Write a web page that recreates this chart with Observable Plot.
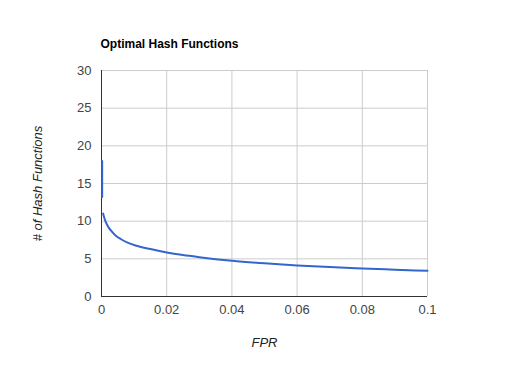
<!DOCTYPE html>
<html>
<head>
<meta charset="utf-8">
<script src="https://cdn.jsdelivr.net/npm/d3@7"></script>
<script src="https://cdn.jsdelivr.net/npm/@observablehq/plot@0.6"></script>
<style>
  html, body { margin: 0; padding: 0; background: #fff; }
  #chart svg { display: block; }
</style>
</head>
<body>
<div id="chart"></div>
<script>
// Spike near zero (separate segment)
const spikeFpr = [0.0002, 0.0002];
const spikeK = [18, 13.2];
// Main curve
const fpr = [0.0005, 0.0012, 0.002, 0.003, 0.0043, 0.006, 0.008, 0.0104, 0.015, 0.02, 0.025, 0.03, 0.04, 0.05, 0.06, 0.07, 0.08, 0.09, 0.1];
const hashK = [11.0, 10.0, 9.3, 8.7, 8.1, 7.6, 7.15, 6.77, 6.3, 5.85, 5.5, 5.22, 4.75, 4.4, 4.12, 3.9, 3.72, 3.56, 3.41];
const xTicks = [0, 0.02, 0.04, 0.06, 0.08, 0.1];
const xTickLabels = ["0", "0.02", "0.04", "0.06", "0.08", "0.1"];
const yTicks = [0, 5, 10, 15, 20, 25, 30];
const yTickLabels = ["0", "5", "10", "15", "20", "25", "30"];

const spike = spikeFpr.map((x, i) => ({x, y: spikeK[i]}));
const curve = fpr.map((x, i) => ({x, y: hashK[i]}));

const chart = Plot.plot({
  width: 528,
  height: 365,
  marginLeft: 101,
  marginRight: 101,
  marginTop: 70,
  marginBottom: 69,
  style: {fontFamily: "'Liberation Sans', Arial, sans-serif", fontSize: "13px", background: "#fff"},
  x: {domain: [0, 0.1]},
  y: {domain: [0, 30]},
  marks: [
    Plot.gridX(xTicks, {stroke: "#cccccc", strokeOpacity: 1}),
    Plot.gridY(yTicks, {stroke: "#cccccc", strokeOpacity: 1}),
    Plot.axisX(xTicks, {tickSize: 0, tickPadding: 8, label: null, fill: "#444",
      tickFormat: (d) => xTickLabels[xTicks.indexOf(d)]}),
    Plot.axisY(yTicks, {tickSize: 0, tickPadding: 10, label: null, fill: "#444",
      tickFormat: (d) => yTickLabels[yTicks.indexOf(d)]}),
    Plot.ruleY([0], {stroke: "#333"}),
    Plot.ruleX([0], {stroke: "#333"}),
    Plot.line(spike, {x: "x", y: "y", stroke: "#3366cc", strokeWidth: 2}),
    Plot.line(curve, {x: "x", y: "y", stroke: "#3366cc", strokeWidth: 2, curve: "monotone-x"}),
    Plot.text(["Optimal Hash Functions"], {frameAnchor: "top-left", dx: -1, dy: -31, textAnchor: "start",
      fontWeight: "bold", fontSize: 12, fill: "#000"}),
    Plot.text(["FPR"], {frameAnchor: "bottom", dy: 50, textAnchor: "middle", fontStyle: "italic", fill: "#222", fontSize: 13}),
    Plot.text(["# of Hash Functions"], {frameAnchor: "left", dx: -64, rotate: -90, textAnchor: "middle", lineAnchor: "middle",
      fontStyle: "italic", fill: "#222", fontSize: 13})
  ]
});
document.getElementById("chart").appendChild(chart);
</script>
</body>
</html>
